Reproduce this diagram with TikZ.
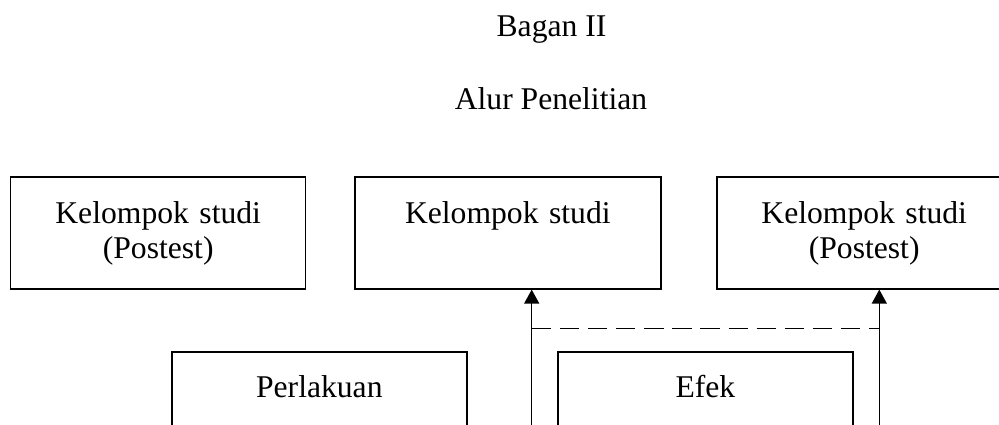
\documentclass[tikz,border=0pt]{standalone}
\usepackage{fontspec}
\setmainfont{Liberation Serif}
\usetikzlibrary{arrows.meta}

\tikzset{
  kotak/.style={draw,rectangle,line width=0.9pt,anchor=north,inner sep=0pt,
    minimum width=#1,minimum height=2.23cm,text width=5.5cm,align=center,
    font=\fontsize{18}{20}\selectfont},
  kotak/.default=5.9cm,
  judul/.style={anchor=base,font=\fontsize{18}{20}\selectfont}
}

\begin{document}
\begin{tikzpicture}[>={Triangle[length=8pt,width=8.5pt]},line width=0.9pt]
        \clip (0,0) rectangle (19.98,8.5);

        % the titles
        \node[judul] (bagan) at (11.03,7.76) {Bagan II};
        \node[judul] (alur) at (11.02,6.30) {Alur Penelitian};

        % the study groups
        \node[kotak] (pre) at (3.164,4.97) {Kelompok studi\\(Postest)};
        \node[kotak=6.114cm] (studi) at (10.157,4.97) {Kelompok studi\\\phantom{(Postest)}};
        \node[kotak] (post) at (17.284,4.97) {Kelompok studi\\(Postest)};

        % treatment and effect
        \node[kotak] (perlakuan) at (6.387,1.48) {Perlakuan\\\phantom{(Postest)}};
        \node[kotak] (efek) at (14.107,1.48) {Efek\\\phantom{(Postest)}};

        % arrows up to the groups
        \coordinate (a1) at (10.634,-0.2);
        \coordinate (a2) at (17.586,-0.2);
        \foreach \p/\q in {a1/studi, a2/post}
                \draw[->] (\p) -- (\p |- \q.south);

        % dashed link between the arrows
        \coordinate (d1) at (10.634,1.934);
        \coordinate (d2) at (17.586,1.934);
        \draw[dash pattern=on 11pt off 5pt] (d1) -- (d2);
\end{tikzpicture}
\end{document}
